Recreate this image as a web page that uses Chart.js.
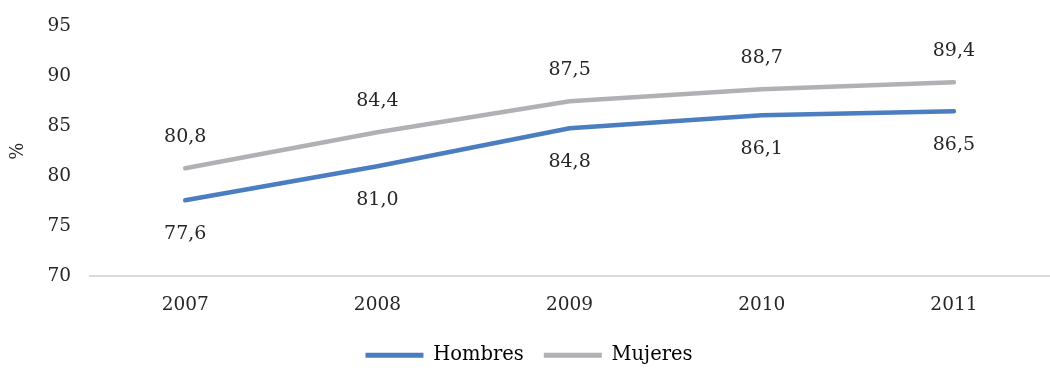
<!DOCTYPE html>
<html>
<head>
<meta charset="utf-8">
<script src="https://cdn.jsdelivr.net/npm/chart.js@4"></script>
<style>
  html, body { margin: 0; padding: 0; background: #fff; }
  #wrap { width: 1050px; height: 377px; }
</style>
</head>
<body>
<div id="wrap"><canvas id="chart"></canvas></div>
<script>
var years = ["2007", "2008", "2009", "2010", "2011"];
var hombres = [77.6, 81.0, 84.8, 86.1, 86.5];
var mujeres = [80.8, 84.4, 87.5, 88.7, 89.4];
var yTicks = [70, 75, 80, 85, 90, 95];

var FONT = "'DejaVu Serif', serif";

// etiquetas de valores: grises arriba, azules abajo
var valueLabels = {
  id: "valueLabels",
  afterDatasetsDraw: function (chart) {
    var ctx = chart.ctx;
    ctx.save();
    ctx.font = "19px " + FONT;
    ctx.fillStyle = "#262626";
    ctx.textAlign = "center";
    ctx.textBaseline = "middle";
    chart.data.datasets.forEach(function (ds, i) {
      var meta = chart.getDatasetMeta(i);
      var off = i === 0 ? 34 : -31;
      meta.data.forEach(function (pt, j) {
        ctx.fillText(ds.data[j].toFixed(1).replace(".", ","), pt.x, pt.y + off);
      });
    });
    ctx.restore();
  }
};

var ctx = document.getElementById("chart").getContext("2d");
var chart = new Chart(ctx, {
  type: "line",
  data: {
    labels: years,
    datasets: [
      {
        label: "Hombres",
        data: hombres,
        borderColor: "#4a7ec0",
        backgroundColor: "#4a7ec0",
        borderWidth: 4.5,
        borderCapStyle: "round",
        pointRadius: 0,
        tension: 0
      },
      {
        label: "Mujeres",
        data: mujeres,
        borderColor: "#b1b1b5",
        backgroundColor: "#b1b1b5",
        borderWidth: 4.5,
        borderCapStyle: "round",
        pointRadius: 0,
        tension: 0
      }
    ]
  },
  options: {
    responsive: true,
    maintainAspectRatio: false,
    animation: false,
    layout: { padding: { top: 0, right: 0, left: 8, bottom: 2 } },
    scales: {
      x: {
        offset: true,
        grid: { display: false },
        border: { display: false },
        ticks: { color: "#262626", font: { family: FONT, size: 18.5 }, padding: 9.5 }
      },
      y: {
        min: 70,
        max: 95,
        afterBuildTicks: function (axis) {
          axis.ticks = yTicks.map(function (v) { return { value: v }; });
        },
        grid: {
          drawTicks: false,
          color: function (c) { return c.tick && c.tick.value === 70 ? "#d9d9d9" : "rgba(0,0,0,0)"; },
          lineWidth: 2
        },
        border: { display: false },
        ticks: {
          color: "#262626",
          font: { family: FONT, size: 18.5, lineHeight: 0.9 },
          padding: 18
        },
        title: {
          display: true,
          text: "%",
          color: "#262626",
          font: { family: FONT, size: 18 },
          padding: 0
        }
      }
    },
    plugins: {
      legend: {
        position: "bottom",
        labels: {
          color: "#262626",
          font: { family: FONT, size: 19.5 },
          boxWidth: 58,
          boxHeight: 5,
          padding: 20,
          generateLabels: function (chart) {
            return chart.data.datasets.map(function (ds, i) {
              return {
                text: ds.label,
                fillStyle: ds.borderColor,
                strokeStyle: ds.borderColor,
                lineWidth: 0,
                datasetIndex: i
              };
            });
          }
        }
      },
      tooltip: { enabled: false }
    }
  },
  plugins: [valueLabels]
});
</script>
</body>
</html>
